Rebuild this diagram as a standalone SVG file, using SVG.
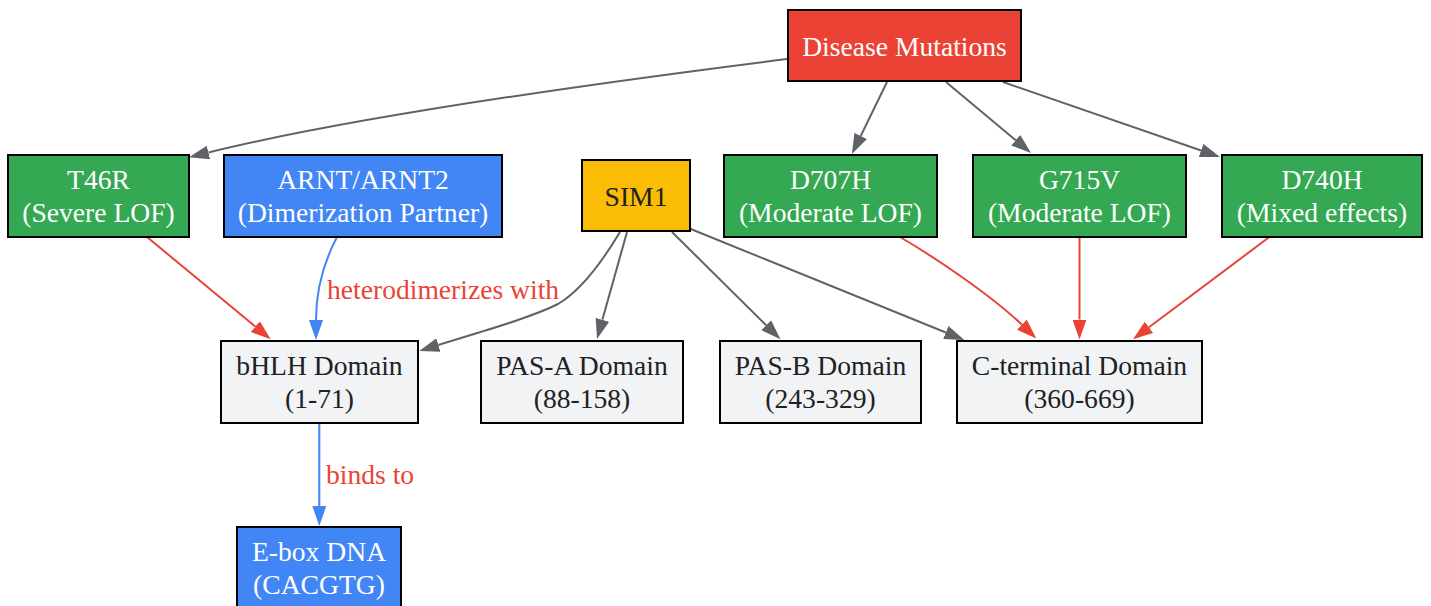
<svg xmlns="http://www.w3.org/2000/svg" width="1431" height="606" viewBox="0 0 1431 606">
<style>
.n rect{stroke:#000;stroke-width:2}
text{font-family:"Liberation Serif","Times New Roman",serif;font-size:27.6px;text-anchor:middle}
.w{fill:#fff}
.d{fill:#202124}
.g{fill:none;stroke:#5F6368;stroke-width:2}
.r{fill:none;stroke:#EA4335;stroke-width:2}
.b{fill:none;stroke:#4285F4;stroke-width:2}
.lbl{fill:#EA4335;text-anchor:start}
</style>
<defs>
<marker id="ag" markerWidth="20" markerHeight="14" refX="0" refY="7" orient="auto" markerUnits="userSpaceOnUse"><path d="M0,0 L20,7 L0,14 z" fill="#5F6368"/></marker>
<marker id="ar" markerWidth="20" markerHeight="14" refX="0" refY="7" orient="auto" markerUnits="userSpaceOnUse"><path d="M0,0 L20,7 L0,14 z" fill="#EA4335"/></marker>
<marker id="ab" markerWidth="20" markerHeight="14" refX="0" refY="7" orient="auto" markerUnits="userSpaceOnUse"><path d="M0,0 L20,7 L0,14 z" fill="#4285F4"/></marker>
</defs>
<rect width="1431" height="606" fill="#fff"/>
<g id="edges">
<path class="g" marker-end="url(#ag)" d="M787,59 C620,80 360,115 208.5,152.5"/>
<path class="g" marker-end="url(#ag)" d="M887,82 L860.7,136"/>
<path class="g" marker-end="url(#ag)" d="M946,82 L1015.7,140.2"/>
<path class="g" marker-end="url(#ag)" d="M1003,82 L1201.1,150.5"/>
<path class="r" marker-end="url(#ar)" d="M147,237 L255.3,326.6"/>
<path class="b" marker-end="url(#ab)" d="M337,237 C326,258 316,285 316,320"/>
<text class="lbl" x="327" y="299">heterodimerizes with</text>
<path class="g" marker-end="url(#ag)" d="M620,232 C602,262 582,290 558,304 C530,318 480,332 438.4,345"/>
<path class="g" marker-end="url(#ag)" d="M627,232 L602.4,319.8"/>
<path class="g" marker-end="url(#ag)" d="M672,232 L766.2,325.3"/>
<path class="g" marker-end="url(#ag)" d="M690.7,229 L945.8,332.5"/>
<path class="r" marker-end="url(#ar)" d="M900,237 C936,258 992,296 1021.9,324.7"/>
<path class="r" marker-end="url(#ar)" d="M1079.5,237 L1079.5,319.5"/>
<path class="r" marker-end="url(#ar)" d="M1269,237.3 L1149,327.3"/>
<path class="b" marker-end="url(#ab)" d="M319.3,423 L319.3,506"/>
<text class="lbl" x="326" y="484">binds to</text>
</g>
<g id="disease" class="n"><rect x="788" y="10" width="233" height="71" fill="#EA4335"/><text class="w" x="904.5" y="55.5">Disease Mutations</text></g>
<g id="t46r" class="n"><rect x="8" y="155" width="181" height="82" fill="#34A853"/><text class="w" x="98.5" y="189">T46R</text><text class="w" x="98.5" y="222">(Severe LOF)</text></g>
<g id="arnt" class="n"><rect x="224" y="155" width="278" height="82" fill="#4285F4"/><text class="w" x="363" y="189">ARNT/ARNT2</text><text class="w" x="363" y="222">(Dimerization Partner)</text></g>
<g id="sim1" class="n"><rect x="582" y="160" width="108" height="71" fill="#FBBC05"/><text class="d" x="636" y="206">SIM1</text></g>
<g id="d707h" class="n"><rect x="724" y="155" width="213" height="82" fill="#34A853"/><text class="w" x="830.5" y="189">D707H</text><text class="w" x="830.5" y="222">(Moderate LOF)</text></g>
<g id="g715v" class="n"><rect x="973" y="155" width="213" height="82" fill="#34A853"/><text class="w" x="1079.5" y="189">G715V</text><text class="w" x="1079.5" y="222">(Moderate LOF)</text></g>
<g id="d740h" class="n"><rect x="1222" y="155" width="200" height="82" fill="#34A853"/><text class="w" x="1322" y="189">D740H</text><text class="w" x="1322" y="222">(Mixed effects)</text></g>
<g id="bhlh" class="n"><rect x="221" y="341" width="197" height="82" fill="#F1F3F4"/><text class="d" x="319.5" y="375">bHLH Domain</text><text class="d" x="319.5" y="408">(1-71)</text></g>
<g id="pasa" class="n"><rect x="481" y="341" width="202" height="82" fill="#F1F3F4"/><text class="d" x="582" y="375">PAS-A Domain</text><text class="d" x="582" y="408">(88-158)</text></g>
<g id="pasb" class="n"><rect x="720" y="341" width="201" height="82" fill="#F1F3F4"/><text class="d" x="820.5" y="375">PAS-B Domain</text><text class="d" x="820.5" y="408">(243-329)</text></g>
<g id="cterm" class="n"><rect x="957" y="341" width="245" height="82" fill="#F1F3F4"/><text class="d" x="1079.5" y="375">C-terminal Domain</text><text class="d" x="1079.5" y="408">(360-669)</text></g>
<g id="ebox" class="n"><rect x="237" y="527" width="164" height="82" fill="#4285F4"/><text class="w" x="319" y="561">E-box DNA</text><text class="w" x="319" y="594">(CACGTG)</text></g>
</svg>
